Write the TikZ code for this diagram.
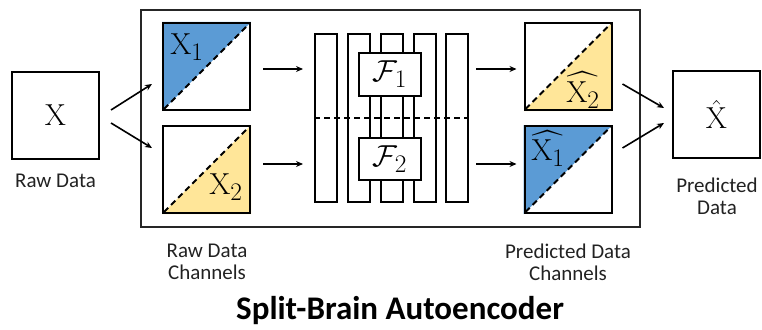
\documentclass[tikz,border=0pt]{standalone}
\usepackage{fontspec}
\usepackage{amsmath,amssymb,graphicx}
\newfontfamily\calibri{Carlito}
\usetikzlibrary{arrows.meta,calc,backgrounds}
\definecolor{sbblue}{HTML}{5B9BD5}
\definecolor{sbyellow}{HTML}{FFE699}
\definecolor{txt}{HTML}{222222}
\newcommand{\symtxt}[1]{\scalebox{1.22}{$#1$}}
\begin{document}
\begin{tikzpicture}[x=1pt,y=-1pt,
  box/.style={draw=black,line width=2pt,minimum width=87pt,minimum height=87pt,inner sep=0pt},
  bar/.style={draw=black,line width=2pt,fill=white,minimum width=22pt,minimum height=168pt,inner sep=0pt},
  fbox/.style={draw=black,line width=2pt,fill=white,minimum width=62pt,minimum height=42pt,inner sep=0pt},
  diag/.style={line width=2pt,dash pattern=on 6pt off 4pt},
  arr/.style={line width=1.6pt,-{Stealth[length=7pt,width=6pt]}},
  lab/.style={font=\calibri\fontsize{21}{23}\selectfont,text=txt,align=center},
  sym/.style={font=\fontsize{24.88}{28}\selectfont,inner sep=0pt}]
\useasboundingbox (0,0) rectangle (762,329);
% outer frame
\node[draw=black!85,line width=2pt,minimum width=499pt,minimum height=217pt,inner sep=0pt] (frame) at (390.5,118.5) {};
% raw data
\node[box,sym] (raw) at (55.5,115) {\symtxt{\mathrm{X}}};
\node[lab,anchor=center] (rawl) at (55.5,181) {Raw Data};
% input channels
\node[box] (x1) at (206.5,66.5) {};
\node[box] (x2) at (206.5,169.5) {};
% output channels
\node[box] (px2) at (568,66.5) {};
\node[box] (px1) at (568,169.5) {};
% predicted
\node[box,sym] (pred) at (716.5,114.5) {\symtxt{\hat{\mathrm{X}}}};
\node[lab] (predl) at (717,196) {Predicted\\[-1pt]Data};
% fills on background
\begin{pgfonlayer}{background}
  \fill[sbblue] (x1.north west) -- (x1.north east) -- (x1.south west) -- cycle;
  \fill[sbyellow] (x2.north east) -- (x2.south east) -- (x2.south west) -- cycle;
  \fill[sbyellow] (px2.north east) -- (px2.south east) -- (px2.south west) -- cycle;
  \fill[sbblue] (px1.north west) -- (px1.north east) -- (px1.south west) -- cycle;
\end{pgfonlayer}
\foreach \n in {x1,x2,px2,px1}{
  \draw[diag] ([shift={(2,-2)}]\n.south west) -- ([shift={(-2,2)}]\n.north east);
}
\node[sym] (x1l) at (187,47) {\symtxt{\mathrm{X}_1}};
\node[sym] (x2l) at (226,187) {\symtxt{\mathrm{X}_2}};
\node[sym] (px2l) at (583,90) {\symtxt{\widehat{\mathrm{X}_2}}};
\node[sym] (px1l) at (548,148.5) {\symtxt{\widehat{\mathrm{X}_1}}};
% bars
\node[bar] (b1) at (326,118) {};
\node[bar] (b2) at (358.5,118) {};
\node[bar] (b3) at (392,118) {};
\node[bar] (b4) at (424.5,118) {};
\node[bar] (b5) at (457,118) {};
\node[fbox,minimum height=43pt] (f1) at (390,74.5) {};
\node[fbox] (f2) at (390,159) {};
\node[sym] (f1l) at (f1.center) {\symtxt{\mathcal{F}_1}};
\node[sym] (f2l) at (f2.center) {\symtxt{\mathcal{F}_2}};
\draw[diag] (b1.west) -- (b5.east);
% arrows
\draw[arr] ([shift={(11,-5)}]raw.east) -- ([shift={(-10,17.5)}]x1.west);
\draw[arr] ([shift={(11,8)}]raw.east) -- ([shift={(-10,-21.5)}]x2.west);
\draw[arr] ([shift={(12,2.5)}]x1.east) -- ($(x1.east -| b1.west)+(-11,2.5)$);
\draw[arr] ([shift={(12,-5.5)}]x2.east) -- ($(x2.east -| b1.west)+(-11,-5.5)$);
\draw[arr] ($(px2.west -| b5.east)+(7,2.5)$) -- ([shift={(-7,2.5)}]px2.west);
\draw[arr] ($(px1.west -| b5.east)+(7,-5.5)$) -- ([shift={(-7,-5.5)}]px1.west);
\draw[arr] ([shift={(10,17.5)}]px2.east) -- ([shift={(-8,-6.5)}]pred.west);
\draw[arr] ([shift={(10,-21.5)}]px1.east) -- ([shift={(-8,8.5)}]pred.west);
% labels
\node[lab] (rdc) at (207,262) {Raw Data\\[-1pt]Channels};
\node[lab] (pdc) at (568,262) {Predicted Data\\[-1pt]Channels};
\node[font=\calibri\bfseries\fontsize{33}{36}\selectfont,text=black] (title) at (400,311) {Split-Brain Autoencoder};
\end{tikzpicture}
\end{document}
